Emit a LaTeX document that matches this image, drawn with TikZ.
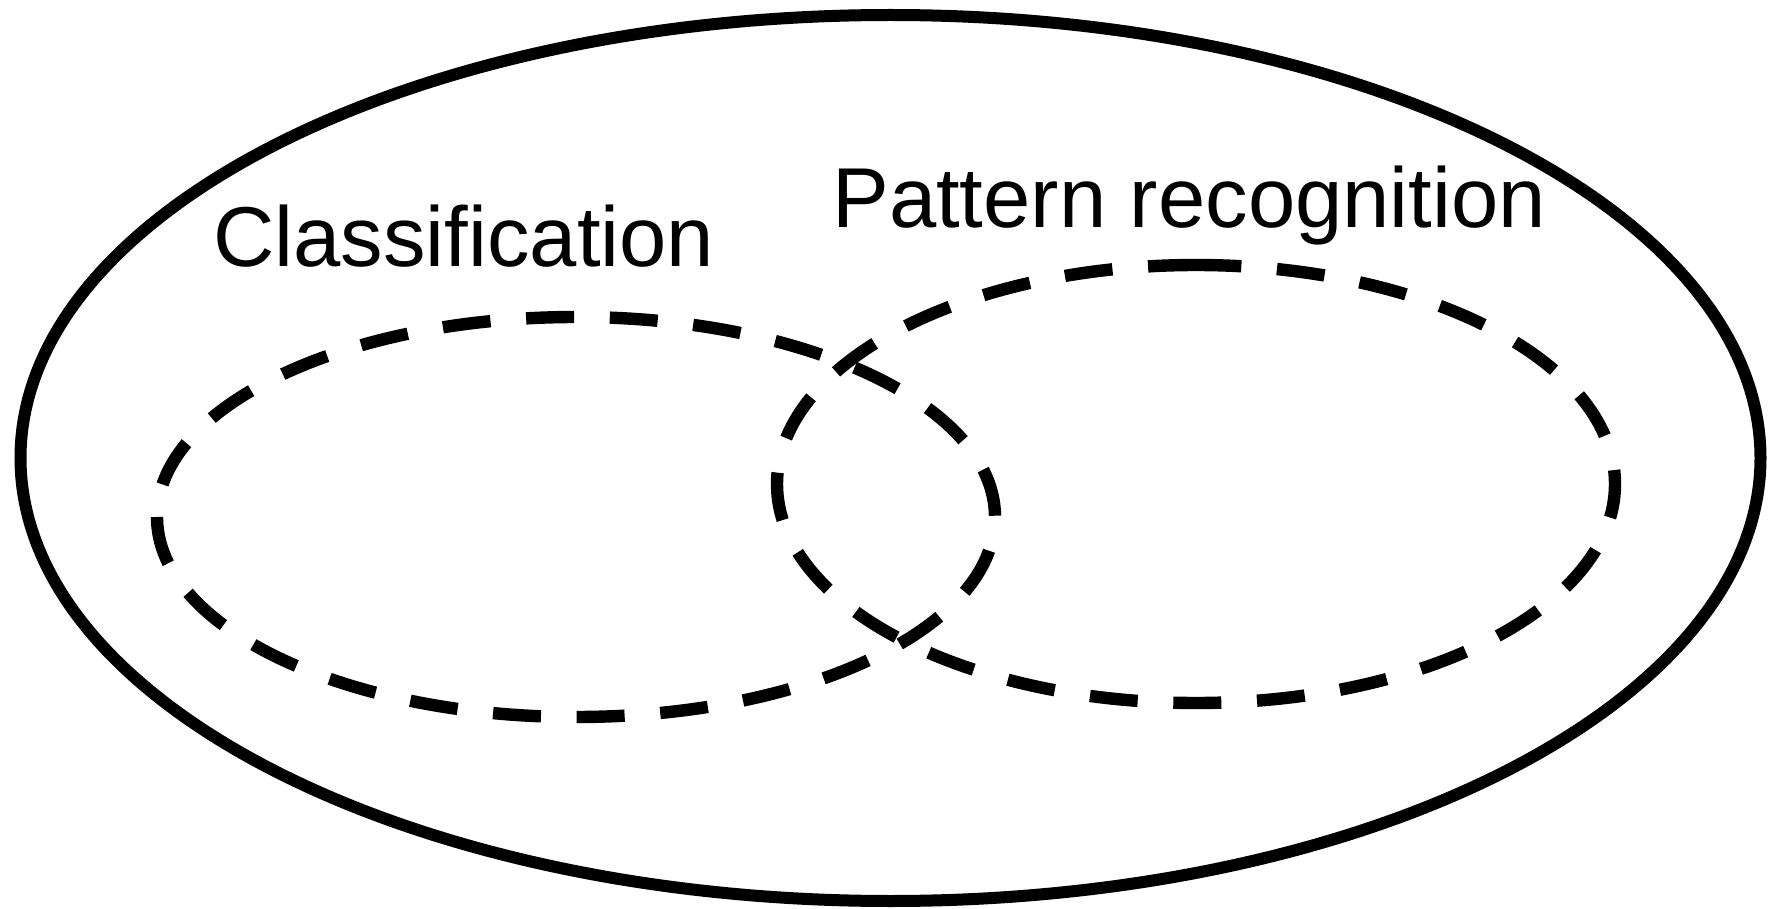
\documentclass[tikz,border=0pt]{standalone}
\usepackage{fontspec}
\setmainfont{Liberation Sans}
\usepackage{tikz}

\begin{document}
\begin{tikzpicture}[x=0.5pt,y=-0.5pt,
  outer/.style={line width=6pt},
  setline/.style={line width=6.2pt,dash pattern=on 24pt off 17.85pt},
  lbl/.style={anchor=base west,inner sep=0pt,font=\fontsize{42.5pt}{50pt}\selectfont}]
\useasboundingbox (0,0) rectangle (1773,909);
% whole field
\draw[outer] (890.5,458) ellipse [x radius=435pt,y radius=221.5pt];
% the two sets, dashed, each started where its dash pattern begins
\draw[setline] (157,517) arc [start angle=180,end angle=540,x radius=209.5pt,y radius=100pt] -- cycle;
\draw[setline] (1196,265) arc [start angle=90,end angle=450,x radius=209.5pt,y radius=109.5pt] -- cycle;
\node[lbl] (cls) at (213,267) {Classification};
\node[lbl] (pat) at (832,228) {Pattern recognition};
\end{tikzpicture}
\end{document}
